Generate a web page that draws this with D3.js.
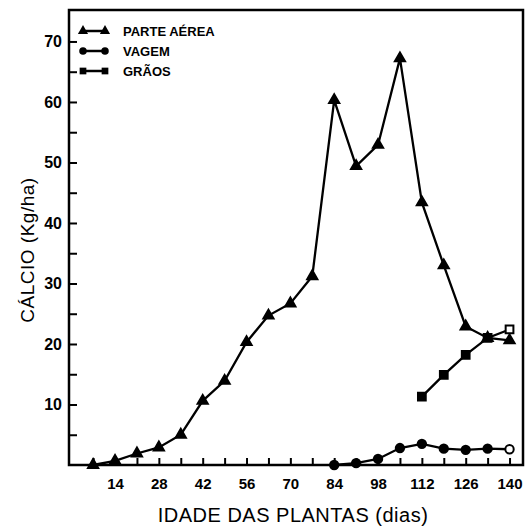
<!DOCTYPE html>
<html>
<head>
<meta charset="utf-8">
<script src="https://cdn.jsdelivr.net/npm/d3@7"></script>
<style>
  body { margin: 0; background: #fff; }
  text { font-family: "Liberation Sans", Arial, sans-serif; font-weight: bold; fill: #000; }
</style>
</head>
<body>
<script>
// dias de idade das plantas
var diasParte = [7, 14, 21, 28, 35, 42, 49, 56, 63, 70, 77, 84, 91, 98, 105, 112, 119, 126, 133, 140];
var parteAerea = [0, 0.7, 1.9, 2.9, 5, 10.6, 13.9, 20.3, 24.7, 26.7, 31.2, 60.3, 49.4, 52.9, 67.2, 43.4, 33, 22.9, 21, 20.6];

var diasVagem = [84, 91, 98, 105, 112, 119, 126, 133, 140];
var vagem = [0, 0.3, 1, 2.8, 3.5, 2.7, 2.5, 2.7, 2.6];

var diasGraos = [112, 119, 126, 133, 140];
var graos = [11.3, 14.9, 18.2, 21, 22.4];

var xTicks = [14, 28, 42, 56, 70, 84, 98, 112, 126, 140];
var yTicks = [10, 20, 30, 40, 50, 60, 70];
var legendNames = ["PARTE AÉREA", "VAGEM", "GRÃOS"];

var W = 527, H = 526;
var margin = {left: 69, right: 4, top: 10, bottom: 61};

var svg = d3.select("body").append("svg")
  .attr("width", W)
  .attr("height", H);

var x = d3.scaleLinear().domain([-0.7, 144.3]).range([margin.left, W - margin.right]);
var y = d3.scaleLinear().domain([0, 75.2]).range([H - margin.bottom, margin.top]);

// frame
svg.append("rect")
  .attr("x", margin.left)
  .attr("y", margin.top)
  .attr("width", W - margin.right - margin.left)
  .attr("height", H - margin.bottom - margin.top)
  .attr("fill", "none")
  .attr("stroke", "#000")
  .attr("stroke-width", 2.5);

// x axis, ticks inside
var xAxis = d3.axisBottom(x)
  .tickValues(d3.range(7, 141, 7))
  .tickSize(-7)
  .tickFormat(function(d) { return xTicks.indexOf(d) >= 0 ? d : ""; });
var gx = svg.append("g")
  .attr("transform", "translate(0," + y(0) + ")")
  .call(xAxis);
gx.select(".domain").remove();
gx.selectAll("line").attr("stroke", "#000").attr("stroke-width", 2);
gx.selectAll("text")
  .attr("y", 13)
  .style("font-size", "15px");

// y axis, ticks inside
var yAxis = d3.axisLeft(y)
  .tickValues(d3.range(5, 71, 5))
  .tickSize(-8)
  .tickFormat(function(d) { return yTicks.indexOf(d) >= 0 ? d : ""; });
var gy = svg.append("g")
  .attr("transform", "translate(" + margin.left + ",0)")
  .call(yAxis);
gy.select(".domain").remove();
gy.selectAll("line").attr("stroke", "#000").attr("stroke-width", 2);
gy.selectAll("text")
  .attr("x", -7)
  .style("font-size", "16px");

// axis titles
svg.append("text")
  .attr("x", 293)
  .attr("y", 522)
  .attr("text-anchor", "middle")
  .style("font-size", "20px")
  .style("font-weight", "normal")
  .style("letter-spacing", "0.5px")
  .text("IDADE DAS PLANTAS (dias)");

svg.append("text")
  .attr("transform", "translate(34,250) rotate(-90)")
  .attr("text-anchor", "middle")
  .style("font-size", "19px")
  .style("font-weight", "normal")
  .style("letter-spacing", "0.5px")
  .text("CÁLCIO (Kg/ha)");

var line = d3.line()
  .x(function(d) { return x(d[0]); })
  .y(function(d) { return y(d[1]); });

function drawSeries(dias, vals, symbolType, size, lastOpen) {
  var pts = dias.map(function(d, i) { return [d, vals[i]]; });
  svg.append("path")
    .datum(pts)
    .attr("d", line)
    .attr("fill", "none")
    .attr("stroke", "#000")
    .attr("stroke-width", 2.3);
  svg.selectAll(null).data(pts)
    .enter().append("path")
    .attr("transform", function(d) { return "translate(" + x(d[0]) + "," + y(d[1]) + ")"; })
    .attr("d", d3.symbol().type(symbolType).size(size))
    .attr("fill", function(d, i) { return lastOpen && i == pts.length - 1 ? "#fff" : "#000"; })
    .attr("stroke", "#000")
    .attr("stroke-width", 2);
}

drawSeries(diasParte, parteAerea, d3.symbolTriangle, 45, false);
drawSeries(diasVagem, vagem, d3.symbolCircle, 55, true);
drawSeries(diasGraos, graos, d3.symbolSquare, 60, true);

// legend
var legendSym = [d3.symbolTriangle, d3.symbolCircle, d3.symbolSquare];
var legend = svg.append("g");
legendNames.forEach(function(name, i) {
  var ly = 31 + i * 20;
  legend.append("line")
    .attr("x1", 83).attr("x2", 105)
    .attr("y1", ly).attr("y2", ly)
    .attr("stroke", "#000").attr("stroke-width", 2.5);
  [83, 105].forEach(function(lx) {
    legend.append("path")
      .attr("transform", "translate(" + lx + "," + ly + ")")
      .attr("d", d3.symbol().type(legendSym[i]).size(45))
      .attr("fill", "#000");
  });
  legend.append("text")
    .attr("x", 123)
    .attr("y", ly + 5)
    .style("font-size", "13px")
    .text(name);
});
</script>
</body>
</html>
